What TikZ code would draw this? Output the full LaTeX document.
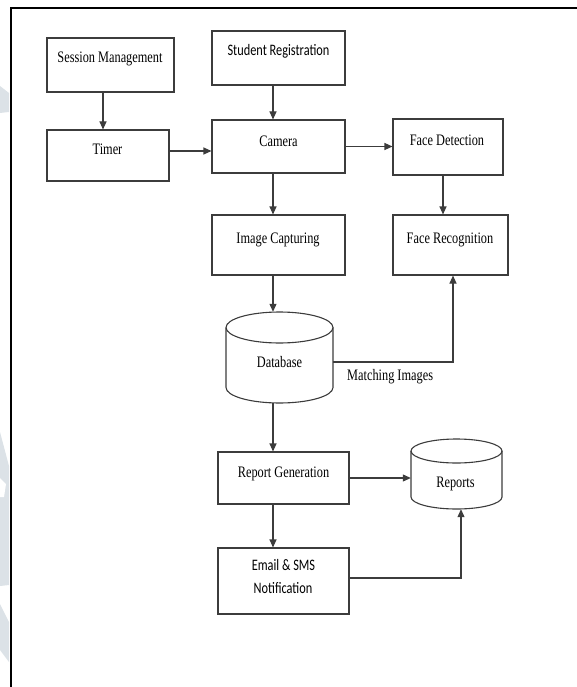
\documentclass[tikz,border=0pt]{standalone}
\usepackage{fontspec}
\setmainfont{Liberation Serif}[FakeStretch=0.77]
\newfontfamily\calfont{Carlito}[FakeStretch=0.77]
\usetikzlibrary{arrows.meta,calc}
\definecolor{linegray}{HTML}{3C3C3C}
\definecolor{wmark}{HTML}{DCE2E7}
\tikzset{
  box/.style={draw=linegray, line width=1.1pt, inner sep=0pt, fill=white},
  txt/.style={anchor=base, inner sep=0pt, font=\fontsize{16}{18}\selectfont},
  ctxt/.style={anchor=base, inner sep=0pt, font=\fontsize{16}{18}\selectfont\calfont},
  arr/.style={draw=linegray, line width=1.1pt, -{Triangle[width=7pt,length=8pt]}},
  ln/.style={draw=linegray, line width=1.1pt},
  cyl/.style={draw=linegray, line width=1.1pt}
}
\begin{document}
\begin{tikzpicture}[x=1pt,y=-1pt]
\useasboundingbox (0,0) rectangle (577,687);
% watermark pieces
\fill[wmark] (0,86) -- (9,93) -- (9,112) -- (0,113) -- cycle;
\fill[wmark] (0,432) -- (9,466) -- (9,585) -- (0,586) -- cycle;
\fill[wmark] (0,604) -- (9,622) -- (9,662) -- (0,650) -- cycle;
\fill[white] (0,478) -- (6,484) -- (4,497) -- (0,497) -- cycle;
% frame
\draw[black, line width=2pt] (11,687) -- (11,8) -- (577,8);

% boxes
\node[box, minimum width=127pt, minimum height=54pt] (sm) at (110.5,65) {};
\node[box, minimum width=122pt, minimum height=51pt] (tm) at (108,155.5) {};
\node[box, minimum width=133pt, minimum height=54pt] (sr) at (278.5,58) {};
\node[box, minimum width=133pt, minimum height=53pt] (cam) at (278.5,146.5) {};
\node[box, minimum width=110pt, minimum height=56pt] (fd) at (448,147) {};
\node[box, minimum width=133pt, minimum height=60pt] (ic) at (278.5,245) {};
\node[box, minimum width=115pt, minimum height=60pt] (fr) at (450.5,245) {};
\node[box, minimum width=131pt, minimum height=52pt] (rg) at (283.5,478) {};
\node[box, minimum width=131pt, minimum height=66pt] (em) at (283.5,581) {};

% cylinders (outline drawn, invisible named nodes for connectors)
\node[minimum width=107pt, minimum height=91pt, inner sep=0pt] (db) at (279.5,357.5) {};
\draw[cyl, fill=white] (226,327.5) -- (226,387.5) arc[start angle=180, end angle=360, x radius=53.5, y radius=-15.5] -- (333,327.5);
\draw[cyl] (279.5,327.5) ellipse[x radius=53.5, y radius=15.5];
\node[minimum width=91pt, minimum height=70pt, inner sep=0pt] (rp) at (456.5,474) {};
\draw[cyl, fill=white] (411,451) -- (411,497) arc[start angle=180, end angle=360, x radius=45.5, y radius=-12] -- (502,451);
\draw[cyl] (456.5,451) ellipse[x radius=45.5, y radius=12];

% texts
\node[txt] (smt) at (110,63) {Session Management};
\node[txt] (tmt) at (107.5,155) {Timer};
\node[ctxt] (srt) at (278.5,56) {Student Registration};
\node[txt] (camt) at (278.5,147) {Camera};
\node[txt] (fdt) at (447,146) {Face Detection};
\node[txt] (ict) at (278,243) {Image Capturing};
\node[txt] (frt) at (450,243) {Face Recognition};
\node[txt] (dbt) at (279.5,367) {Database};
\node[txt, anchor=base west] (mit) at (347,380) {Matching Images};
\node[txt] (rgt) at (283.5,477) {Report Generation};
\node[txt] (rpt) at (455.5,487) {Reports};
\node[ctxt] (emt1) at (283.5,570) {Email \& SMS};
\node[ctxt] (emt2) at (283,593) {Notification};

% helper coordinates
\coordinate (colA) at (273,0);
\coordinate (colSM) at (103,0);
\coordinate (colFD) at (443,0);
\coordinate (colFR) at (453,0);
\coordinate (colRP) at (461,0);
\coordinate (rowT) at (0,151);
\coordinate (rowDB) at (0,362);
\coordinate (rowEM) at (0,578);

% connectors
\draw[arr] (sm.south -| colSM) -- (tm.north -| colSM);
\draw[arr] (tm.east |- rowT) -- (cam.west |- rowT);
\draw[arr] (sr.south -| colA) -- (cam.north -| colA);
\draw[arr] (cam.east) -- (fd.west |- cam.east);
\draw[arr] (fd.south -| colFD) -- (fr.north -| colFD);
\draw[arr] (cam.south -| colA) -- (ic.north -| colA);
\draw[arr] (ic.south -| colA) -- (db.north -| colA);
\draw[arr] (db.east |- rowDB) -- (colFR |- rowDB) -- (fr.south -| colFR);
\draw[arr] (db.south -| colA) -- (rg.north -| colA);
\draw[arr] (rg.east) -- (rp.west |- rg.east);
\draw[arr] (rg.south -| colA) -- (em.north -| colA);
\draw[arr] (em.east |- rowEM) -- (colRP |- rowEM) -- (rp.south -| colRP);
\end{tikzpicture}
\end{document}
